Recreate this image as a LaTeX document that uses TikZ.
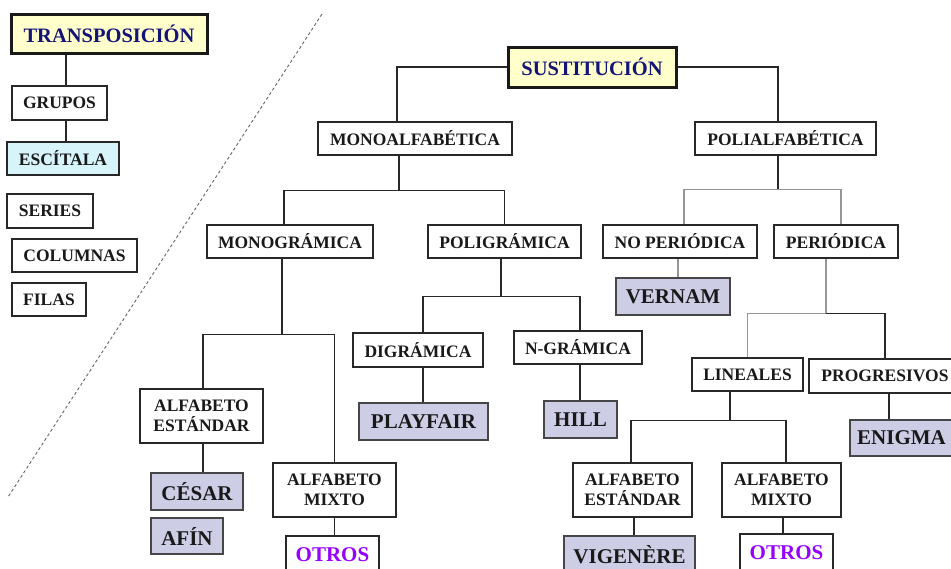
\documentclass[tikz,border=0pt]{standalone}
\usepackage{fontspec}
\setmainfont{Liberation Serif}
\definecolor{navy}{RGB}{20,20,120}
\definecolor{yellowf}{RGB}{255,255,204}
\definecolor{cyanf}{RGB}{214,244,250}
\definecolor{lav}{RGB}{205,205,230}
\definecolor{violetc}{RGB}{150,0,255}
\definecolor{linec}{RGB}{40,40,40}
\definecolor{grayl}{RGB}{150,150,150}
\definecolor{leafc}{RGB}{70,70,70}
\newcommand\lblfont{\fontsize{17.5}{20}\selectfont\bfseries}
\newcommand\leaffont{\fontsize{21}{22}\selectfont\bfseries}
\newcommand\titlefont{\fontsize{20.5}{22}\selectfont\bfseries}
\begin{document}
\begin{tikzpicture}[x=1pt,y=-1pt,
  box/.style={draw=linec, line width=1.3pt, fill=white, inner sep=0pt, font=\lblfont, text=black!90, align=center},
  titlebox/.style={box, line width=3pt, draw=black!90, fill=yellowf, font=\titlefont, text=navy},
  leaf/.style={box, fill=lav, draw=leafc, line width=1.8pt, font=\leaffont},
  otrosbox/.style={box, font=\leaffont, text=violetc},
  conn/.style={draw=linec, line width=1.2pt},
  gconn/.style={draw=grayl, line width=1.2pt}]
\fill[white] (0,0) rectangle (951,568);
\useasboundingbox (0,0) rectangle (951,568);
% dashed separator
\draw[draw=black!60, line width=0.9pt, dash pattern=on 3pt off 2.5pt] (322,14) -- (8,497);
% left: transposition
\node[titlebox, minimum width=196pt, minimum height=39pt] (trans) at (109,33.5) {TRANSPOSICIÓN};
\node[box, minimum width=95pt, minimum height=34pt] (grupos) at (59.5,103) {GRUPOS};
\node[box, fill=cyanf, minimum width=112pt, minimum height=33pt] (escitala) at (63,158.5) {ESCÍTALA};
\node[box, minimum width=86pt, minimum height=34pt] (series) at (50,211) {SERIES};
\node[box, minimum width=125pt, minimum height=33pt] (columnas) at (74.5,255.5) {COLUMNAS};
\node[box, minimum width=74pt, minimum height=33pt] (filas) at (49,299.5) {FILAS};
\draw[conn] ([xshift=6.5pt]grupos.north) -- ([xshift=6.5pt]grupos.north |- trans.south);
\draw[conn] ([xshift=3pt]escitala.north) -- ([xshift=3pt]escitala.north |- grupos.south);
% substitution
\node[titlebox, minimum width=168pt, minimum height=40pt] (sust) at (592,67) {SUSTITUCIÓN};
\node[box, minimum width=194pt, minimum height=33pt] (mono) at (415,138.5) {MONOALFABÉTICA};
\node[box, minimum width=181pt, minimum height=33pt] (poli) at (785.5,138.5) {POLIALFABÉTICA};
\node[box, minimum width=166pt, minimum height=33pt] (monog) at (290,241.5) {MONOGRÁMICA};
\node[box, minimum width=153pt, minimum height=33pt] (polig) at (504.5,241.5) {POLIGRÁMICA};
\node[box, minimum width=154pt, minimum height=33pt] (noper) at (680,241.5) {NO PERIÓDICA};
\node[box, minimum width=124pt, minimum height=33pt] (per) at (836,241.5) {PERIÓDICA};
\node[leaf, minimum width=114pt, minimum height=37pt] (vernam) at (673,296.5) {VERNAM};
\node[box, minimum width=111pt, minimum height=33pt] (lin) at (747.5,374.5) {LINEALES};
\node[box, minimum width=152pt, minimum height=34pt] (prog) at (885,376) {PROGRESIVOS};
\node[leaf, minimum width=103pt, minimum height=36pt] (enigma) at (901.5,438) {ENIGMA};
\node[box, minimum width=119pt, minimum height=54pt] (aesr) at (632.5,490) {ALFABETO\\ESTÁNDAR};
\node[box, minimum width=119pt, minimum height=54pt] (amxr) at (781.5,490) {ALFABETO\\MIXTO};
\node[leaf, minimum width=131pt, minimum height=37pt] (vig) at (629.5,554.5) {VIGENÈRE};
\node[otrosbox, minimum width=93pt, minimum height=37pt] (otrosr) at (786.5,552.5) {OTROS};
\node[box, minimum width=130pt, minimum height=34pt] (dig) at (418,350) {DIGRÁMICA};
\node[leaf, minimum width=129pt, minimum height=37pt] (play) at (423.5,421.5) {PLAYFAIR};
\node[box, minimum width=128pt, minimum height=33pt] (ngram) at (578,347.5) {N-GRÁMICA};
\node[leaf, minimum width=73pt, minimum height=37pt] (hill) at (580.5,419.5) {HILL};
\node[box, minimum width=123pt, minimum height=54pt] (aesl) at (201.5,416) {ALFABETO\\ESTÁNDAR};
\node[leaf, minimum width=92pt, minimum height=37pt] (cesar) at (197,491.5) {CÉSAR};
\node[leaf, minimum width=72pt, minimum height=36pt] (afin) at (187,536) {AFÍN};
\node[box, minimum width=123pt, minimum height=54pt] (amxl) at (334.5,490) {ALFABETO\\MIXTO};
\node[otrosbox, minimum width=93pt, minimum height=37pt] (otrosl) at (332.5,554.5) {OTROS};
% connectors
\draw[conn] (sust.west) -| ([xshift=-18pt]mono.north);
\draw[conn] (sust.east) -| ([xshift=-7.5pt]poli.north);
\draw[conn] ([xshift=-16pt]mono.south) -- ++(0,35) coordinate (m1);
\draw[conn] ([xshift=-6pt]monog.north) |- (m1) -| (polig.north);
\draw[conn] ([xshift=-7.5pt]poli.south) -- ++(0,34) coordinate (p1);
\draw[gconn] ([xshift=4pt]noper.north) |- (p1) -| ([xshift=5pt]per.north);
\draw[gconn] ([xshift=-2pt]noper.south) -- ([xshift=-2pt]noper.south |- vernam.north);
\draw[gconn] ([xshift=-10pt]per.south) -- ++(0,55) coordinate (q1);
\draw[gconn] (lin.north) |- (q1);
\draw[conn] (prog.north) |- (q1);
\draw[conn] ([xshift=4pt]prog.south) -- ([xshift=4pt]prog.south |- enigma.north);
\draw[conn] ([xshift=-17.5pt]lin.south) -- ++(0,29) coordinate (l1);
\draw[conn] ([xshift=-1.5pt]aesr.north) |- (l1) -| ([xshift=4.5pt]amxr.north);
\draw[conn] ([xshift=1.5pt]aesr.south) -- ([xshift=1.5pt]aesr.south |- vig.north);
\draw[conn] ([xshift=1.5pt]amxr.south) -- ([xshift=1.5pt]amxr.south |- otrosr.north);
\draw[conn] ([xshift=-3.5pt]polig.south) -- ++(0,38) coordinate (g1);
\draw[conn] ([xshift=5pt]dig.north) |- (g1) -| ([xshift=2pt]ngram.north);
\draw[conn] ([xshift=5pt]dig.south) -- ([xshift=5pt]dig.south |- play.north);
\draw[conn] ([xshift=2pt]ngram.south) -- ([xshift=2pt]ngram.south |- hill.north);
\draw[conn] ([xshift=-8pt]monog.south) -- ++(0,76) coordinate (k1);
\draw[conn] ([xshift=1.5pt]aesl.north) |- (k1) -| (amxl.north);
\draw[conn] ([xshift=1.5pt]aesl.south) -- ([xshift=1.5pt]aesl.south |- cesar.north);
\draw[conn] (amxl.south) -- (amxl.south |- otrosl.north);
\end{tikzpicture}
\end{document}
